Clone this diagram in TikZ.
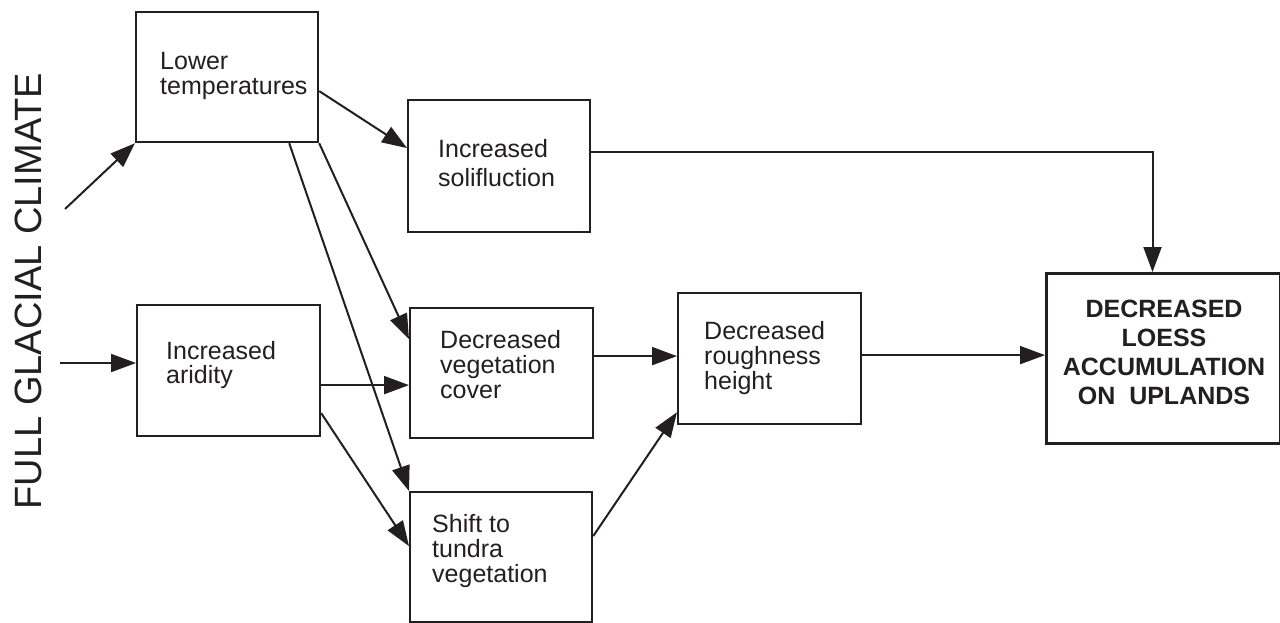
\documentclass[tikz,border=0pt]{standalone}
\usepackage{fontspec}
\setmainfont{Liberation Sans}
\usetikzlibrary{arrows.meta}
\definecolor{ink}{HTML}{231F20}
\begin{document}
\begin{tikzpicture}[x=1pt,y=-1pt,
  box/.style={draw=ink,line width=2.2pt,rectangle,inner sep=0pt,anchor=north west},
  lbl/.style={anchor=north west,inner sep=0pt,align=left,text=ink,font=\fontsize{25}{25}\selectfont},
  conn/.style={draw=ink,line width=2pt,-{Triangle[length=25pt,width=18pt]}}]
\useasboundingbox (0,0) rectangle (1280,622);

% boxes
\node[box,minimum width=182pt,minimum height=130pt] (lt) at (135,11) {};
\node[box,minimum width=182pt,minimum height=132pt] (sol) at (407,99) {};
\node[box,minimum width=183pt,minimum height=131pt] (ar) at (136,304) {};
\node[box,minimum width=183pt,minimum height=130pt] (dv) at (409,307) {};
\node[box,minimum width=182pt,minimum height=130pt] (sh) at (409,491) {};
\node[box,minimum width=183pt,minimum height=131pt] (rh) at (677,292) {};
\node[box,line width=3pt,minimum width=234pt,minimum height=170pt] (fin) at (1045,272) {};

% texts
\node[lbl] (tlt) at (160,52) {Lower\\temperatures};
\node[lbl,font=\fontsize{25}{29}\selectfont] (tsol) at (438,139) {Increased\\solifluction};
\node[lbl,font=\fontsize{25}{24}\selectfont] (tar) at (166,341) {Increased\\aridity};
\node[lbl] (tdv) at (440,330) {Decreased\\vegetation\\cover};
\node[lbl] (tsh) at (432,514) {Shift to\\tundra\\vegetation};
\node[lbl] (trh) at (704,321) {Decreased\\roughness\\height};
\node[anchor=north,inner sep=0pt,align=center,text=ink,font=\fontsize{25}{29}\selectfont\bfseries] (tfin) at (1164,300) {DECREASED\\LOESS\\ACCUMULATION\\ON\ \ UPLANDS};
\node[rotate=90,anchor=base,inner sep=0pt,text=ink,font=\fontsize{38}{38}\selectfont] (fgc) at (41,291) {FULL GLACIAL CLIMATE};

% connectors
\coordinate (g1) at (65,209);
\coordinate (g2) at (60,363);
\draw[conn] (g1) -- (lt.south west);
\draw[conn] (g2) -- (g2 -| ar.west);
\draw[conn] ([yshift=-14pt]lt.east) -- ([yshift=18pt]sol.west);
\draw[conn] ([yshift=14pt]sol.east) -| ([xshift=-11pt]fin.north);
\draw[conn] (lt.south east) -- ([yshift=34pt]dv.west);
\draw[conn] ([xshift=-30pt]lt.south east) -- (sh.north west);
\draw[conn] ([yshift=-14.5pt]ar.east) coordinate (a1) -- (a1 -| dv.west);
\draw[conn] ([yshift=-42.5pt]ar.east) -- ([yshift=11pt]sh.west);
\draw[conn] ([yshift=17pt]dv.east) coordinate (d1) -- (d1 -| rh.west);
\draw[conn] ([yshift=21pt]sh.east) -- ([yshift=13pt]rh.south west);
\draw[conn] ([yshift=3.5pt]rh.east) coordinate (r1) -- (r1 -| fin.west);
\end{tikzpicture}
\end{document}
